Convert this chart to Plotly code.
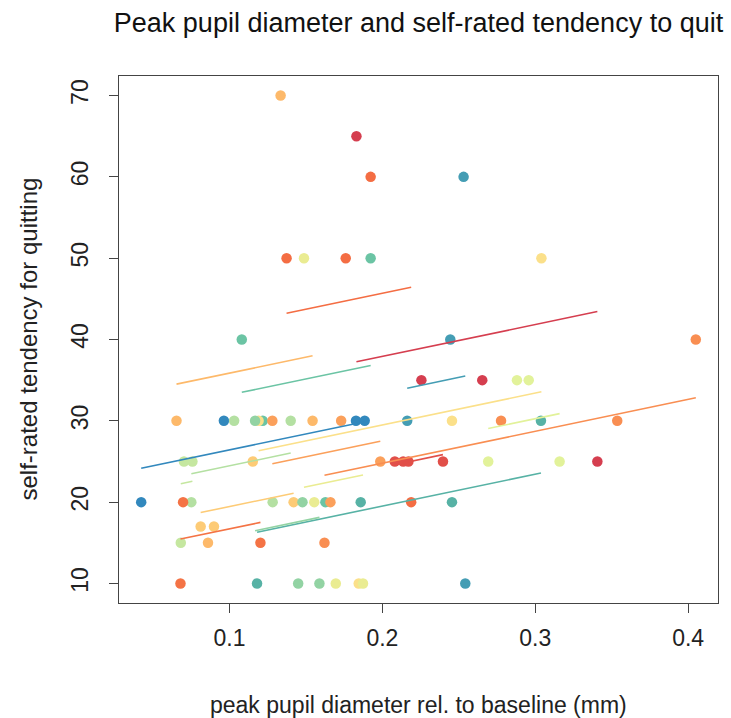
import plotly.graph_objects as go

# Peak pupil dilation vs. self-rated tendency to quit, one colour per participant.
# Each participant's trials (x = peak pupil diameter, y = rating) and the
# participant-specific fitted line (common slope, own intercept).

subjects = ["S01", "S02", "S03", "S04", "S05", "S06", "S07", "S08", "S09",
            "S10", "S11", "S12", "S13", "S14", "S15", "S16", "S17", "S18"]

colors = ["#F46D43", "#D53E4F", "#FDB96A", "#6BC4A4", "#3288BD", "#449DB4",
          "#FBE08A", "#B4E0A2", "#C5E7A0", "#FBA05B", "#E14F49", "#EAEC92",
          "#FDCB76", "#F47345", "#57B2A5", "#F98E52", "#E2F29A", "#92D3A3"]

peak_pupil = [
    [0.1373, 0.1760, 0.1923, 0.2188],
    [0.1830, 0.2255, 0.2653, 0.3406],
    [0.0653, 0.0859, 0.1334, 0.1543],
    [0.1080, 0.1217, 0.1627, 0.1923],
    [0.0422, 0.0963, 0.1827, 0.1884],
    [0.2162, 0.2444, 0.2531, 0.2542],
    [0.1190, 0.1845, 0.2455, 0.3040],
    [0.0750, 0.1030, 0.1282, 0.1400],
    [0.0681, 0.0702, 0.0757],
    [0.1280, 0.1660, 0.1730, 0.1986],
    [0.2081, 0.2136, 0.2170, 0.2396],
    [0.1487, 0.1554, 0.1695, 0.1873],
    [0.0811, 0.0898, 0.1152, 0.1419],
    [0.0679, 0.0696, 0.1202],
    [0.1180, 0.1858, 0.2455, 0.3037],
    [0.1621, 0.2776, 0.3536, 0.4050],
    [0.2692, 0.2880, 0.2957, 0.3159],
    [0.1167, 0.1449, 0.1477, 0.1588],
]

quit_rating = [
    [50, 50, 60, 20],
    [65, 35, 35, 25],
    [30, 15, 70, 30],
    [40, 30, 20, 50],
    [20, 30, 30, 30],
    [30, 40, 60, 10],
    [30, 10, 30, 50],
    [20, 30, 20, 30],
    [15, 25, 25],
    [30, 20, 30, 25],
    [25, 25, 25, 25],
    [50, 20, 10, 10],
    [17, 17, 25, 20],
    [10, 20, 15],
    [10, 20, 20, 30],
    [15, 30, 30, 40],
    [25, 35, 35, 25],
    [30, 10, 20, 10],
]

# fitted model: shared slope, participant intercepts
slope = 39.2
intercepts = [37.85, 30.08, 31.95, 29.27, 22.51, 25.54, 21.65, 20.55, 19.6,
              19.7, 16.45, 16.0, 15.54, 12.8, 11.68, 16.95, 18.5, 11.9]

x_ticks = [0.1, 0.2, 0.3, 0.4]
y_ticks = [10, 20, 30, 40, 50, 60, 70]

FONT = "Liberation Sans, Arial, sans-serif"

fig = go.Figure()

for s, c, xs, ys in zip(subjects, colors, peak_pupil, quit_rating):
    fig.add_trace(go.Scatter(
        x=xs, y=ys, mode="markers", name=s,
        marker=dict(color=c, size=10.5, line=dict(width=0)),
        showlegend=False,
    ))

for s, c, xs, b in zip(subjects, colors, peak_pupil, intercepts):
    x0, x1 = min(xs), max(xs)
    fig.add_trace(go.Scatter(
        x=[x0, x1], y=[b + slope * x0, b + slope * x1], mode="lines",
        name=s, line=dict(color=c, width=1.6), showlegend=False,
    ))

# axis limits padded 4% beyond the data range
all_x = [v for xs in peak_pupil for v in xs]
all_y = [v for ys in quit_rating for v in ys]
xr = max(all_x) - min(all_x)
yr = max(all_y) - min(all_y)
x_range = [min(all_x) - 0.04 * xr, max(all_x) + 0.04 * xr]
y_range = [min(all_y) - 0.04 * yr, max(all_y) + 0.04 * yr]

axis_common = dict(
    showgrid=False, zeroline=False,
    showline=True, mirror=True, linecolor="#444444", linewidth=1.3,
    ticks="outside", ticklen=9, tickwidth=1.3, tickcolor="#444444",
    tickfont=dict(family=FONT, size=23, color="#222222"),
)

fig.update_layout(
    width=731, height=718,
    margin=dict(l=119, r=13, t=76, b=115),
    paper_bgcolor="white", plot_bgcolor="white",
    title=dict(
        text="Peak pupil diameter and self-rated tendency to quit",
        font=dict(family=FONT, size=27, color="#111111"),
        x=0.5, xref="paper", xanchor="center",
        y=1 - 23 / 718, yref="container", yanchor="middle",
    ),
    xaxis=dict(range=x_range, tickvals=x_ticks, ticktext=[str(t) for t in x_ticks],
               ticklabelstandoff=5, **axis_common),
    yaxis=dict(range=y_range, tickvals=y_ticks, ticktext=[str(t) for t in y_ticks],
               tickangle=-90, ticklabelstandoff=12, **axis_common),
    annotations=[
        dict(text="peak pupil diameter rel. to baseline (mm)",
             x=0.5, y=0, xref="paper", yref="paper",
             xanchor="center", yanchor="middle", yshift=-102, showarrow=False,
             font=dict(family=FONT, size=23, color="#222222")),
        dict(text="self-rated tendency for quitting",
             x=0, y=0.5, xref="paper", yref="paper", textangle=-90,
             xanchor="center", yanchor="middle", xshift=-91, showarrow=False,
             font=dict(family=FONT, size=24, color="#222222")),
    ],
)

fig.write_html("out.html")
